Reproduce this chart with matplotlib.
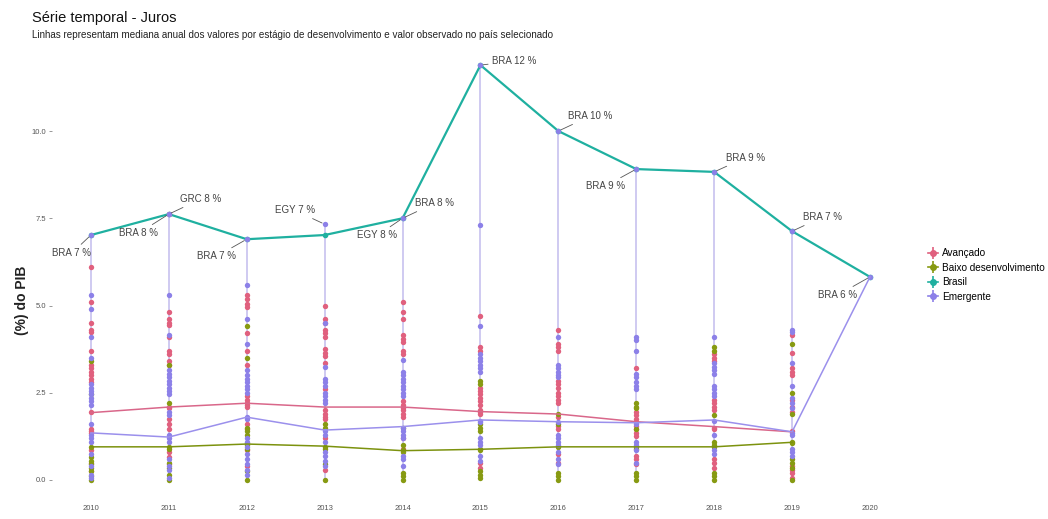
import matplotlib.pyplot as plt
from matplotlib.lines import Line2D
from matplotlib.legend_handler import HandlerTuple

plt.rcParams['font.family'] = ['Liberation Sans', 'DejaVu Sans']

years = [2010, 2011, 2012, 2013, 2014, 2015, 2016, 2017, 2018, 2019, 2020]

# country values per year (2010 ... 2020)
avancado = [
    [6.1, 5.1, 4.5, 4.3, 4.25, 3.7, 3.3, 3.2, 3.1, 3.0, 2.9, 2.8, 1.95, 1.45, 1.4, 1.35, 0.85, 0.5, 0.25],
    [7.62, 4.8, 4.6, 4.5, 4.45, 4.1, 3.7, 3.6, 3.4, 3.3, 2.1, 2.05, 1.75, 1.6, 1.45, 0.8, 0.65, 0.45],
    [5.3, 5.2, 5.05, 4.95, 4.2, 3.7, 3.3, 2.4, 2.3, 2.2, 2.15, 2.1, 1.6, 1.45, 0.85, 0.4],
    [5.0, 4.6, 4.5, 4.3, 4.2, 4.1, 3.75, 3.65, 3.55, 3.35, 2.6, 2.0, 1.9, 1.8, 1.75, 1.2, 0.3],
    [5.1, 4.8, 4.6, 4.15, 4.05, 3.95, 3.7, 3.6, 2.25, 2.15, 2.05, 2.0, 1.9, 1.8, 1.2, 0.9],
    [4.7, 3.8, 3.7, 2.65, 2.55, 2.45, 2.35, 2.25, 2.15, 2.0, 1.95, 1.9, 0.5, 0.35],
    [4.3, 3.9, 3.8, 3.7, 2.85, 2.75, 2.65, 2.5, 2.4, 2.3, 2.2, 1.8, 1.55, 1.45, 0.75, 0.5],
    [3.2, 1.95, 1.85, 1.75, 1.65, 1.55, 1.45, 1.35, 1.25, 0.7, 0.6, 0.45],
    [3.6, 3.5, 3.4, 2.3, 2.2, 2.1, 2.0, 1.5, 1.45, 0.6, 0.5, 0.35],
    [4.15, 3.65, 3.2, 3.1, 3.0, 2.3, 2.1, 1.95, 1.4, 0.4, 0.3, 0.2, 0.05],
    [],
]
emergente = [
    [7.02, 5.3, 4.9, 4.1, 3.5, 2.75, 2.65, 2.55, 2.45, 2.35, 2.25, 2.15, 1.6, 1.3, 1.2, 1.1, 0.75, 0.4, 0.15, 0.05],
    [7.62, 5.3, 4.15, 3.15, 3.05, 2.95, 2.85, 2.75, 2.65, 2.55, 2.45, 1.95, 1.85, 1.3, 1.2, 1.1, 0.6, 0.4, 0.3, 0.05],
    [6.9, 5.6, 4.6, 3.9, 3.15, 3.0, 2.9, 2.8, 2.7, 2.6, 2.5, 1.8, 1.75, 1.2, 1.1, 0.95, 0.75, 0.6, 0.45, 0.3, 0.15],
    [7.33, 4.5, 3.25, 2.9, 2.8, 2.7, 2.5, 2.4, 2.3, 2.2, 1.4, 1.3, 1.1, 0.8, 0.7, 0.55, 0.4],
    [7.5, 3.45, 3.1, 3.0, 2.9, 2.8, 2.7, 2.6, 2.5, 2.4, 1.5, 1.4, 1.3, 1.2, 0.7, 0.6, 0.4],
    [11.89, 7.3, 4.4, 3.6, 3.5, 3.4, 3.3, 3.2, 3.1, 1.7, 1.65, 1.2, 1.1, 1.0, 0.7, 0.55],
    [10.0, 4.1, 3.3, 3.2, 3.1, 3.0, 2.95, 1.65, 1.3, 1.2, 1.1, 1.0, 0.8, 0.6, 0.45],
    [8.91, 4.1, 4.0, 3.7, 3.05, 2.95, 2.8, 2.7, 2.6, 1.6, 1.1, 1.0, 0.85, 0.5],
    [8.83, 4.1, 3.35, 3.25, 3.15, 3.05, 2.7, 2.6, 2.5, 2.4, 1.7, 1.3, 0.85, 0.75],
    [7.13, 4.3, 4.25, 3.35, 2.7, 2.35, 2.2, 2.05, 1.35, 1.3, 0.9, 0.8, 0.7],
    [5.82],
]
baixo = [
    [3.4, 2.45, 0.95, 0.65, 0.55, 0.45, 0.35, 0.25, 0.1, 0.0],
    [3.3, 2.2, 0.95, 0.9, 0.5, 0.35, 0.15, 0.0],
    [4.4, 3.5, 1.5, 1.4, 1.3, 1.05, 1.0, 0.9, 0.25, 0.0],
    [1.6, 1.5, 0.95, 0.9, 0.45, 0.0],
    [1.5, 1.0, 0.85, 0.8, 0.2, 0.1, 0.0],
    [2.85, 2.75, 1.6, 1.5, 1.4, 0.9, 0.85, 0.25, 0.15, 0.05],
    [1.9, 1.6, 0.95, 0.2, 0.1, 0.0],
    [2.2, 2.1, 2.05, 1.45, 0.95, 0.9, 0.2, 0.1, 0.0],
    [3.8, 3.7, 1.85, 1.1, 1.0, 0.95, 0.2, 0.1, 0.0],
    [3.9, 2.5, 1.9, 1.1, 1.05, 0.6, 0.5, 0.35, 0.0],
    [],
]

# annual medians
avancado_med = [1.93, 2.09, 2.2, 2.09, 2.09, 1.96, 1.89, 1.67, 1.53, 1.38]
emergente_med = [1.35, 1.23, 1.8, 1.43, 1.53, 1.72, 1.67, 1.64, 1.72, 1.38, 5.82]
baixo_med = [0.95, 0.95, 1.03, 0.97, 0.84, 0.88, 0.95, 0.95, 0.95, 1.08]
brasil = [7.02, 7.62, 6.9, 7.02, 7.5, 11.89, 10.0, 8.91, 8.83, 7.13, 5.82]

# labelled countries
lab_year = [2010, 2011, 2011, 2012, 2013, 2014, 2014, 2015, 2016, 2017, 2018, 2019, 2020]
lab_code = ['BRA', 'GRC', 'BRA', 'BRA', 'EGY', 'BRA', 'EGY', 'BRA', 'BRA', 'BRA', 'BRA', 'BRA', 'BRA']
lab_value = [7.02, 7.62, 7.62, 6.9, 7.33, 7.5, 7.5, 11.89, 10.0, 8.91, 8.83, 7.13, 5.82]
lab_offset = [(-19, -18), (32, 15), (-30, -19), (-30, -17), (-30, 14), (32, 15), (-25, -17),
              (34, 4), (32, 15), (-31, -17), (31, 14), (30, 14), (-32, -18)]

c_av = '#E0607E'
c_bx = '#879A12'
c_br = '#1FB0A0'
c_em = '#8C80E8'

fig = plt.figure(figsize=(10.48, 5.19), dpi=100)
ax = fig.add_axes([0.0496, 0.0382, 0.8177, 0.874])

# range of values each year
for i, yr in enumerate(years):
    vals = avancado[i] + emergente[i] + baixo[i]
    ax.vlines(yr, min(vals), max(vals), color='#CCC6F0', lw=1.3, zorder=1)

ax.plot(years, brasil, color=c_br, lw=1.6, marker='o', ms=3, zorder=2)

for data, col in [(avancado, c_av), (baixo, c_bx), (emergente, c_em)]:
    xs = [yr for yr, v in zip(years, data) for _ in v]
    ys = [y for v in data for y in v]
    ax.scatter(xs, ys, s=15, color=col, lw=0, zorder=3)

ax.plot(years[:10], avancado_med, color='#D9678A', lw=1.1, zorder=4)
ax.plot(years, emergente_med, color='#9B90EC', lw=1.1, zorder=4)
ax.plot(years[:10], baixo_med, color='#7C920E', lw=1.1, zorder=4)

for yr, code, v, off in zip(lab_year, lab_code, lab_value, lab_offset):
    ax.annotate(f"{code} {round(v):.0f} %", xy=(yr, v), xytext=off,
                textcoords='offset pixels', ha='center', va='center',
                fontsize=7, color='#444444', zorder=6,
                arrowprops=dict(arrowstyle='-', color='#555555', lw=0.6,
                                shrinkA=1, shrinkB=2))

ax.set_xlim(2009.5, 2020.5)
ax.set_ylim(-0.55, 12.45)
ax.set_xticks(years)
ax.set_xticklabels([str(y) for y in years])
ax.set_yticks([0, 2.5, 5, 7.5, 10])
ax.set_yticklabels(['0.0', '2.5', '5.0', '7.5', '10.0'])
ax.tick_params(axis='x', length=0, pad=4, labelsize=5.5, labelcolor='#555555')
ax.tick_params(axis='y', length=2, width=0.6, color='#888888', pad=2,
               labelsize=5.5, labelcolor='#555555')
for s in ax.spines.values():
    s.set_visible(False)

fig.text(22 / 1048, 1 - 300 / 519, '(%) do PIB', rotation=90, fontsize=10,
         fontweight='bold', ha='center', va='center', color='#222222')
fig.text(32 / 1048, 1 - 18 / 519, 'Série temporal - Juros', fontsize=10.5,
         ha='left', va='center', color='#111111')
fig.text(32 / 1048, 1 - 35 / 519,
         'Linhas representam mediana anual dos valores por estágio de desenvolvimento e valor observado no país selecionado',
         fontsize=7.1, ha='left', va='center', color='#222222')

handles = []
for col in [c_av, c_bx, c_br, c_em]:
    handles.append((Line2D([], [], color=col, lw=1.2),
                    Line2D([], [], color=col, marker='|', ms=9, lw=0, mew=1.2),
                    Line2D([], [], color=col, marker='o', ms=4, lw=0)))
fig.legend(handles, ['Avançado', 'Baixo desenvolvimento', 'Brasil', 'Emergente'],
           handler_map={tuple: HandlerTuple(ndivide=1)},
           loc='center left', bbox_to_anchor=(924 / 1048, 1 - 275 / 519),
           frameon=False, fontsize=7.2, handlelength=1.0, handletextpad=0.4,
           labelspacing=0.45, borderaxespad=0)

fig.savefig('out.png', dpi=100)
